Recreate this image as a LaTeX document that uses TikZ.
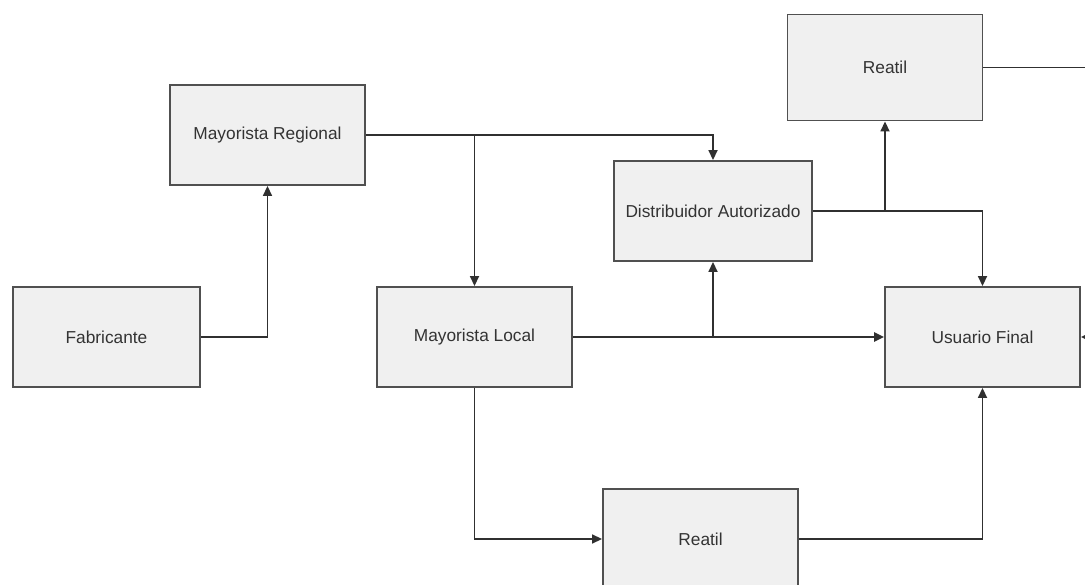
\documentclass[tikz,border=0pt]{standalone}
\usepackage{fontspec}
\setmainfont{Liberation Sans}
\usetikzlibrary{arrows.meta}
\definecolor{boxfill}{HTML}{F0F0F0}
\definecolor{boxline}{HTML}{505050}
\definecolor{wire}{HTML}{303030}
\definecolor{label}{HTML}{333333}
\begin{document}
\begin{tikzpicture}[x=1pt,y=-1pt,
  block/.style={draw=boxline, fill=boxfill, line width=1.9pt,
    minimum width=195pt, minimum height=100pt, inner sep=0pt,
    font=\fontsize{17.3}{20}\selectfont, text=label},
  plain/.style={draw=wire, line width=1.7pt},
  link/.style={plain, -{Triangle[length=10pt,width=9pt]}}]
\useasboundingbox (0,0) rectangle (1085,585);
\clip (0,0) rectangle (1085,585);

% boxes
\node[block, minimum width=187pt] (fab) at (106.5,337) {Fabricante};
\node[block] (mr)  at (267.5,135) {Mayorista Regional};
\node[block] (ml)  at (474.5,337) {Mayorista Local};
\node[block, minimum width=198pt] (dist) at (713,211) {Distribuidor Autorizado};
\node[block, minimum height=106pt] (rt) at (885,67.5) {Reatil};
\node[block] (uf)  at (982.5,337) {Usuario Final};
\node[block] (rb)  at (700.5,539) {Reatil};

% loose ends at the right border
\coordinate (outA) at (1090,67.5);
\coordinate (outB) at (1090,337);

% connectors
\draw[link] (fab.east) -| (mr.south);
\draw[link] (mr.east) -| (dist.north);
\draw[link] (ml.north |- mr.east) -- (ml.north);
\draw[link, line width=2.4pt] (ml.east) -- (uf.west);
\draw[link] (dist.south |- ml.east) -- (dist.south);
\draw[link] (dist.east) -| (uf.north);
\draw[link] (rt.south |- dist.east) -- (rt.south);
\draw[plain] (rt.east) -- (outA);
\draw[link] (outB) -- (uf.east);
\draw[link] (ml.south) |- (rb.west);
\draw[link] (rb.east) -| (uf.south);
\end{tikzpicture}
\end{document}
